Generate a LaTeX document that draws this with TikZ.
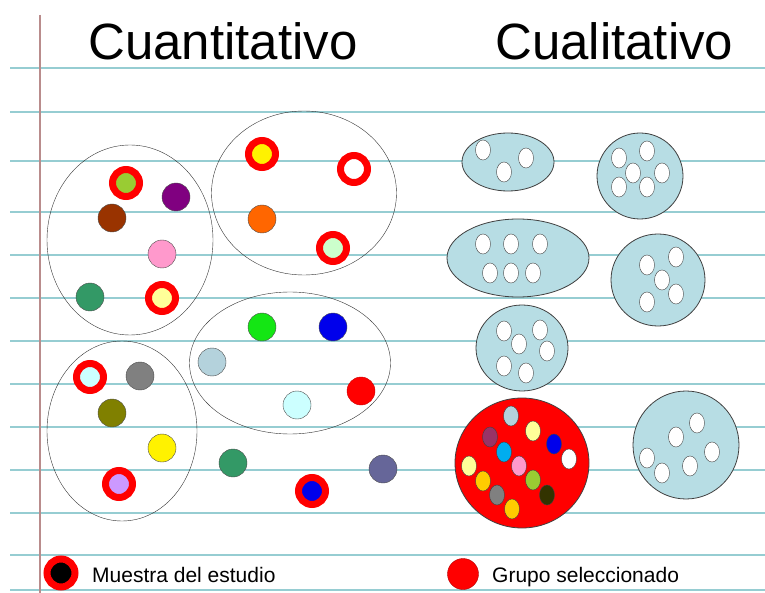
\documentclass[tikz,border=0pt]{standalone}
\usepackage{fontspec}
\setmainfont{Liberation Sans}
\usetikzlibrary{shapes.geometric}

\definecolor{rule}{RGB}{150,205,210}
\definecolor{margin}{RGB}{185,140,140}
\definecolor{pale}{RGB}{183,221,228}
\definecolor{limegr}{RGB}{153,204,51}
\definecolor{plum}{RGB}{128,0,128}
\definecolor{rust}{RGB}{153,51,0}
\definecolor{rosa}{RGB}{255,153,204}
\definecolor{sea}{RGB}{51,153,102}
\definecolor{cream}{RGB}{255,255,153}
\definecolor{mint}{RGB}{204,255,204}
\definecolor{naranja}{RGB}{255,102,0}
\definecolor{verde}{RGB}{20,230,20}
\definecolor{azul}{RGB}{0,0,235}
\definecolor{greyblue}{RGB}{180,210,220}
\definecolor{celeste}{RGB}{204,255,255}
\definecolor{olivo}{RGB}{128,128,0}
\definecolor{lila}{RGB}{204,153,255}
\definecolor{slate}{RGB}{102,102,153}
\definecolor{vino}{RGB}{153,51,102}
\definecolor{oro}{RGB}{255,204,0}
\definecolor{oscuro}{RGB}{51,51,0}

\begin{document}
\begin{tikzpicture}[x=1pt,y=-1pt]
  \tikzstyle{dot}=[circle,draw=black!70,thin,minimum size=28pt,inner sep=0pt]
  \tikzstyle{ring}=[circle,draw=red,line width=7pt,minimum size=27pt,inner sep=0pt]
  \tikzstyle{group}=[ellipse,draw=black!80,thin,inner sep=0pt]
  \tikzstyle{cell}=[ellipse,draw=black!75,fill=pale,thick,inner sep=0pt]
  \tikzstyle{seed}=[ellipse,draw=black!75,fill=white,thin,minimum width=15pt,minimum height=20pt,inner sep=0pt]
  \tikzstyle{label}=[anchor=base west,inner sep=0pt]

  \fill[white] (0,0) rectangle (765,593);
  \useasboundingbox (0,0) rectangle (765,593);

  % ruled paper
  \draw[rule,line width=1.3pt] (10,68) -- (765,68);
  \draw[rule,line width=1.3pt] (10,112) -- (765,112);
  \draw[rule,line width=1.3pt] (10,161) -- (765,161);
  \draw[rule,line width=1.3pt] (10,212) -- (765,212);
  \draw[rule,line width=1.3pt] (10,255) -- (765,255);
  \draw[rule,line width=1.3pt] (10,298) -- (765,298);
  \draw[rule,line width=1.3pt] (10,341) -- (765,341);
  \draw[rule,line width=1.3pt] (10,384) -- (765,384);
  \draw[rule,line width=1.3pt] (10,427) -- (765,427);
  \draw[rule,line width=1.3pt] (10,470) -- (765,470);
  \draw[rule,line width=1.3pt] (10,513) -- (765,513);
  \draw[rule,line width=1.3pt] (10,555) -- (765,555);
  \draw[rule,line width=1.3pt] (10,590) -- (765,590);
  \draw[margin,line width=1.2pt] (40,15) -- (40,593);

  % titles
  \node[label,font=\fontsize{51}{60}\selectfont] (T_1) at (88,60) {Cuantitativo};
  \node[label,font=\fontsize{51}{60}\selectfont] (T_2) at (495,60) {Cualitativo};

  % cuantitativo: groups
  \node[group,minimum width=166pt,minimum height=190pt] (Q_1) at (130,240) {};
  \node[group,minimum width=185pt,minimum height=164pt] (Q_2) at (304,193) {};
  \node[group,minimum width=201pt,minimum height=142pt] (Q_3) at (290,363) {};
  \node[group,minimum width=150pt,minimum height=180pt] (Q_4) at (122,431) {};

  \node[ring,fill=limegr] (A_1) at (126,183) {};
  \node[dot,fill=plum] (A_2) at (176,197) {};
  \node[dot,fill=rust] (A_3) at (112,218) {};
  \node[dot,fill=rosa] (A_4) at (162,254) {};
  \node[dot,fill=sea] (A_5) at (90,297) {};
  \node[ring,fill=cream] (A_6) at (162,298) {};

  \node[ring,fill=yellow] (B_1) at (262,154) {};
  \node[ring,fill=white] (B_2) at (354,169) {};
  \node[dot,fill=naranja] (B_3) at (262,219) {};
  \node[ring,fill=mint] (B_4) at (333,248) {};

  \node[dot,fill=verde] (C_1) at (262,327) {};
  \node[dot,fill=azul] (C_2) at (333,327) {};
  \node[dot,fill=greyblue] (C_3) at (212,362) {};
  \node[dot,fill=celeste] (C_4) at (297,405) {};
  \node[dot,fill=red,draw=red!80!black] (C_5) at (361,391) {};

  \node[ring,fill=celeste] (D_1) at (90,377) {};
  \node[dot,fill=gray] (D_2) at (140,376) {};
  \node[dot,fill=olivo] (D_3) at (112,413) {};
  \node[dot,fill=yellow] (D_4) at (162,448) {};
  \node[ring,fill=lila] (D_5) at (119,484) {};

  \node[dot,fill=sea] (E_1) at (233,463) {};
  \node[ring,fill=azul] (E_2) at (312,491) {};
  \node[dot,fill=slate] (E_3) at (383,469) {};

  % cualitativo: groups
  \node[cell,minimum width=92pt,minimum height=58pt] (K_1) at (508,162) {};
  \node[seed] at (483,150) {};
  \node[seed] at (504,172) {};
  \node[seed] at (526,158) {};

  \node[cell,minimum width=86pt,minimum height=86pt] (K_2) at (640,176) {};
  \node[seed] at (619,158) {};
  \node[seed] at (647,151) {};
  \node[seed] at (633,173) {};
  \node[seed] at (662,173) {};
  \node[seed] at (619,187) {};
  \node[seed] at (647,187) {};

  \node[cell,minimum width=142pt,minimum height=78pt] (K_3) at (518,258) {};
  \node[seed] at (483,244) {};
  \node[seed] at (511,244) {};
  \node[seed] at (540,244) {};
  \node[seed] at (490,273) {};
  \node[seed] at (511,273) {};
  \node[seed] at (533,273) {};

  \node[cell,minimum width=94pt,minimum height=92pt] (K_4) at (658,280) {};
  \node[seed] at (647,265) {};
  \node[seed] at (676,257) {};
  \node[seed] at (662,280) {};
  \node[seed] at (676,294) {};
  \node[seed] at (647,302) {};

  \node[cell,minimum width=92pt,minimum height=86pt] (K_5) at (522,348) {};
  \node[seed] at (504,331) {};
  \node[seed] at (540,330) {};
  \node[seed] at (519,344) {};
  \node[seed] at (547,351) {};
  \node[seed] at (504,366) {};
  \node[seed] at (526,373) {};

  \node[cell,fill=red,minimum width=134pt,minimum height=130pt] (K_6) at (522,463) {};
  \node[seed,fill=greyblue] at (511,416) {};
  \node[seed,fill=cream] at (533,431) {};
  \node[seed,fill=vino] at (490,437) {};
  \node[seed,fill=azul] at (554,444) {};
  \node[seed,fill=cyan] at (504,452) {};
  \node[seed] at (569,459) {};
  \node[seed,fill=cream] at (469,466) {};
  \node[seed,fill=rosa] at (519,466) {};
  \node[seed,fill=limegr] at (533,480) {};
  \node[seed,fill=oro] at (483,481) {};
  \node[seed,fill=gray] at (497,495) {};
  \node[seed,fill=oscuro] at (547,495) {};
  \node[seed,fill=oro] at (512,509) {};

  \node[cell,minimum width=106pt,minimum height=108pt] (K_7) at (686,445) {};
  \node[seed] at (647,458) {};
  \node[seed] at (662,473) {};
  \node[seed] at (676,437) {};
  \node[seed] at (697,423) {};
  \node[seed] at (690,466) {};
  \node[seed] at (712,452) {};

  % legend
  \node[ring,fill=black,minimum size=28pt] (L_1) at (61,573) {};
  \node[label,font=\fontsize{21}{25}\selectfont] (L_2) at (92,582) {Muestra del estudio};
  \node[dot,fill=red,draw=red!70!black,minimum size=31pt] (L_3) at (463,574) {};
  \node[label,font=\fontsize{21}{25}\selectfont] (L_4) at (492,582) {Grupo seleccionado};
\end{tikzpicture}
\end{document}
